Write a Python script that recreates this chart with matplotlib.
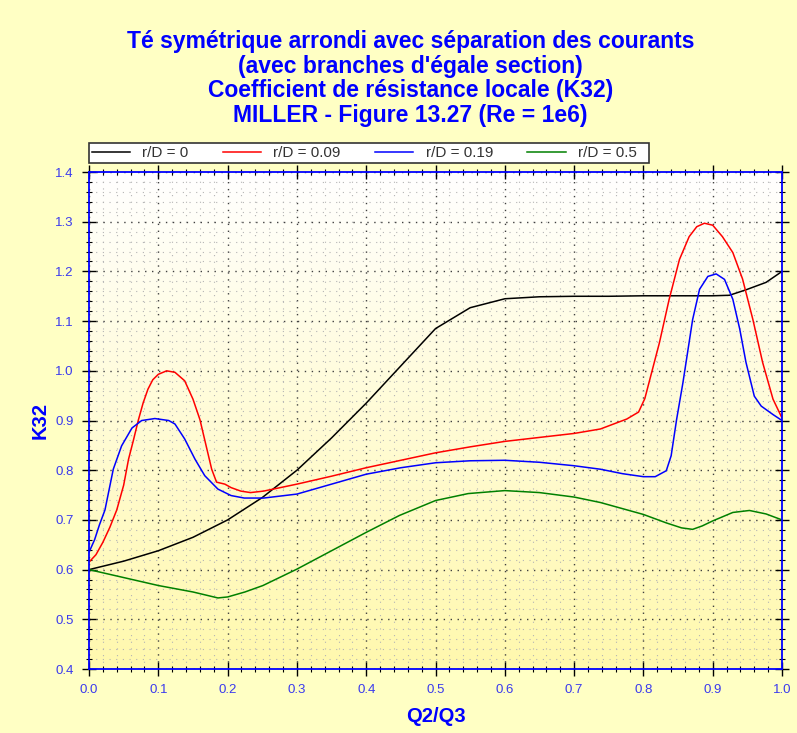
import matplotlib
matplotlib.use("Agg")
import matplotlib.pyplot as plt
import numpy as np
from matplotlib.ticker import MultipleLocator
from matplotlib.patches import Rectangle

plt.rcParams['font.family'] = ['Liberation Sans', 'DejaVu Sans']

# r/D = 0
x_k0 = [0.0, 0.05, 0.1, 0.15, 0.2, 0.25, 0.3, 0.35, 0.4, 0.45, 0.5, 0.55, 0.6, 0.65,
        0.7, 0.75, 0.8, 0.85, 0.9, 0.924, 0.948, 0.977, 1.0]
y_k0 = [0.6, 0.617, 0.638, 0.665, 0.70, 0.745, 0.80, 0.865, 0.935, 1.01, 1.085, 1.127, 1.145, 1.149,
        1.15, 1.15, 1.151, 1.151, 1.151, 1.152, 1.163, 1.178, 1.2]

# r/D = 0.09
x_k1 = [0.0, 0.01, 0.02, 0.03, 0.04, 0.05, 0.057, 0.064, 0.071, 0.078, 0.085, 0.092, 0.1, 0.112,
        0.124, 0.138, 0.15, 0.16, 0.169, 0.177, 0.184, 0.196, 0.205, 0.219, 0.233, 0.252, 0.3, 0.35,
        0.4, 0.45, 0.5, 0.55, 0.6, 0.65, 0.7, 0.738, 0.776, 0.793, 0.802, 0.808, 0.823, 0.837,
        0.852, 0.866, 0.877, 0.888, 0.9, 0.914, 0.929, 0.943, 0.958, 0.972, 0.987, 1.0]
y_k1 = [0.615, 0.63, 0.655, 0.685, 0.72, 0.77, 0.822, 0.86, 0.9, 0.935, 0.963, 0.982, 0.993, 1.0,
        0.997, 0.98, 0.943, 0.902, 0.849, 0.802, 0.776, 0.772, 0.765, 0.758, 0.755, 0.758, 0.772, 0.788,
        0.805, 0.82, 0.835, 0.847, 0.858, 0.866, 0.874, 0.883, 0.903, 0.917, 0.944, 0.976, 1.056, 1.143,
        1.224, 1.27, 1.29, 1.297, 1.293, 1.27, 1.238, 1.185, 1.103, 1.017, 0.943, 0.905]

# r/D = 0.19
x_k2 = [0.0, 0.008, 0.015, 0.023, 0.035, 0.047, 0.062, 0.076, 0.095, 0.115, 0.124, 0.138, 0.153,
        0.167, 0.186, 0.205, 0.224, 0.252, 0.3, 0.35, 0.4, 0.45, 0.5, 0.55, 0.6, 0.65, 0.7, 0.738,
        0.77, 0.8, 0.817, 0.833, 0.84, 0.848, 0.857, 0.871, 0.881, 0.893, 0.905, 0.917, 0.929,
        0.939, 0.948, 0.96, 0.97, 0.987, 1.0]
y_k2 = [0.635, 0.66, 0.69, 0.72, 0.802, 0.849, 0.885, 0.9, 0.904, 0.9, 0.893, 0.863, 0.822,
        0.789, 0.762, 0.749, 0.744, 0.744, 0.752, 0.772, 0.792, 0.805, 0.815, 0.819, 0.82, 0.816, 0.809, 0.802,
        0.793, 0.787, 0.787, 0.799, 0.829, 0.903, 0.976, 1.103, 1.164, 1.19, 1.195, 1.184, 1.144,
        1.084, 1.017, 0.949, 0.929, 0.912, 0.9]

# r/D = 0.5
x_k3 = [0.0, 0.05, 0.1, 0.15, 0.186, 0.2, 0.225, 0.251, 0.3, 0.35, 0.4, 0.448, 0.5, 0.547, 0.6,
        0.65, 0.7, 0.738, 0.8, 0.833, 0.855, 0.871, 0.885, 0.9, 0.929, 0.953, 0.977, 1.0]
y_k3 = [0.6, 0.584, 0.568, 0.555, 0.543, 0.545, 0.555, 0.568, 0.601, 0.638, 0.675, 0.709, 0.739, 0.753, 0.759,
        0.755, 0.746, 0.735, 0.711, 0.694, 0.684, 0.681, 0.688, 0.698, 0.715, 0.719, 0.712, 0.7]

series = [(x_k0, y_k0, "r/D = 0", "black"),
          (x_k1, y_k1, "r/D = 0.09", "red"),
          (x_k2, y_k2, "r/D = 0.19", "blue"),
          (x_k3, y_k3, "r/D = 0.5", "green")]

W, H = 797, 733
fig = plt.figure(figsize=(W / 100, H / 100), dpi=100)
fig.patch.set_facecolor("#ffffc4")
ax = fig.add_axes([0.1117, 0.0873, 0.8695, 0.678])
ax.set_facecolor("white")

# gradient background white -> pale yellow
grad = np.linspace(0, 1, 256).reshape(-1, 1)
top = np.array([1.0, 1.0, 1.0])
bot = np.array([1.0, 0.975, 0.68])
img = top + (bot - top) * grad[:, :, None]
ax.imshow(img, extent=[0, 1, 0.4, 1.4], aspect="auto", origin="upper", zorder=0)

for xs, ys, lab, col in series:
    ax.plot(xs, ys, color=col, lw=1.1, label=lab, zorder=3)

ax.set_xlim(0, 1)
ax.set_ylim(0.4, 1.4)
ax.xaxis.set_major_locator(MultipleLocator(0.1))
ax.xaxis.set_minor_locator(MultipleLocator(0.02))
ax.yaxis.set_major_locator(MultipleLocator(0.1))
ax.yaxis.set_minor_locator(MultipleLocator(0.02))
ax.grid(which="major", color="#404040", ls=(0, (1, 4)), lw=1.0, zorder=1)
ax.grid(which="minor", color="#b4b4b4", ls=(0, (1, 5)), lw=0.8, zorder=1)
ax.tick_params(which="major", direction="inout", length=10, width=1.0, color="black",
               top=True, right=True, labelsize=9.5, labelcolor="#3a3aee", pad=6)
ax.tick_params(which="minor", direction="inout", length=5, width=0.8, color="black",
               top=True, right=True)
for s in ax.spines.values():
    s.set_color("blue")
    s.set_linewidth(1.3)
    s.set_zorder(4)

ax.set_xlabel("Q2/Q3", color="blue", fontsize=14.5, fontweight="bold", labelpad=8)
ax.set_ylabel("K32", color="blue", fontsize=14.5, fontweight="bold", labelpad=4)

fig.text(0.515, 0.959, "Té symétrique arrondi avec séparation des courants\n"
         "(avec branches d'égale section)\n"
         "Coefficient de résistance locale (K32)\n"
         "MILLER - Figure 13.27 (Re = 1e6)",
         ha="center", va="top", color="blue", fontsize=16.5, fontweight="bold", linespacing=1.09)

# legend box
fig.add_artist(Rectangle((89 / W, 1 - 163 / H), 560 / W, 20 / H, transform=fig.transFigure,
                         facecolor="white", edgecolor="#333333", lw=1.2, zorder=2))
leg = fig.legend(loc="center left", bbox_to_anchor=(92 / W, 1 - 153 / H), ncol=4,
                 fontsize=11, frameon=False, borderpad=0, handlelength=2.5,
                 handletextpad=0.8, columnspacing=2.25, borderaxespad=0)
leg.set_zorder(3)
for t in leg.get_texts():
    t.set_color("#333333")

fig.savefig("out.png", dpi=100, facecolor=fig.get_facecolor())
